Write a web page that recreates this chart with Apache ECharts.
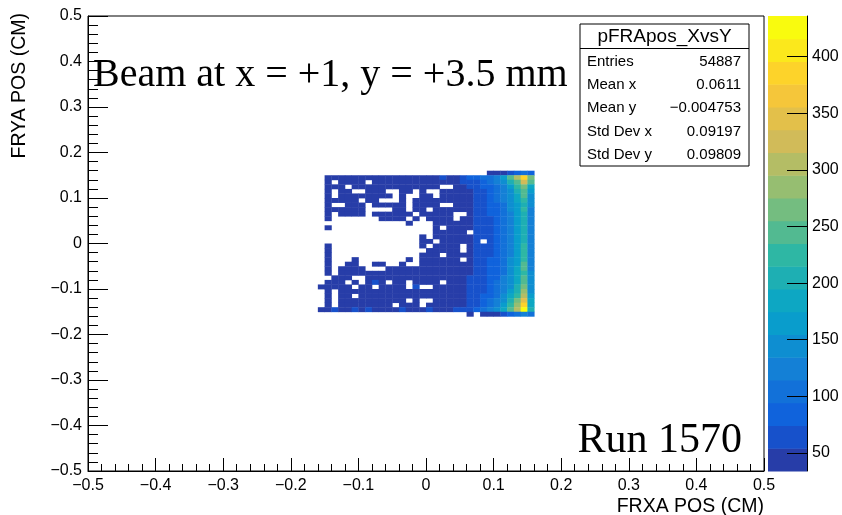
<!DOCTYPE html>
<html><head><meta charset="utf-8">
<script src="https://cdn.jsdelivr.net/npm/echarts@6/dist/echarts.min.js"></script>
<style>html,body{margin:0;padding:0;background:#fff}#c{width:842px;height:515px}</style>
</head><body><div id="c"></div>
<script>
// bin lower edges (x: left to right, y: top row to bottom row)
const xBins = [-0.16,-0.15,-0.14,-0.13,-0.12,-0.11,-0.10,-0.09,-0.08,-0.07,-0.06,-0.05,-0.04,-0.03,-0.02,-0.01,
               0.00,0.01,0.02,0.03,0.04,0.05,0.06,0.07,0.08,0.09,0.10,0.11,0.12,0.13,0.14,0.15];
const yBins = [0.15,0.14,0.13,0.12,0.11,0.10,0.09,0.08,0.07,0.06,0.05,0.04,0.03,0.02,0.01,0.00,
               -0.01,-0.02,-0.03,-0.04,-0.05,-0.06,-0.07,-0.08,-0.09,-0.10,-0.11,-0.12,-0.13,-0.14,-0.15,-0.16];
const binWidth = 0.01;
// bin contents, rows top to bottom, columns left to right (0 = empty)
const counts = [
[0,0,0,0,0,0,0,0,0,0, 0,0,0,0,0,0,0,0,0,0, 0,0,0,0,0,42,46,50,68,88,100,92],
[0,44,47,41,45,43,48,40,46,42, 45,39,47,44,41,46,43,49,66,45, 50,62,75,80,95,110,130,170,240,300,395,270],
[0,43,0,46,40,44,42,0,45,41, 47,39,44,42,46,40,45,43,48,44, 46,55,60,68,85,95,115,150,200,255,330,240],
[0,41,45,42,0,46,40,43,47,41, 44,39,45,42,48,41,44,46,0,0, 47,50,55,62,76,90,105,130,165,215,275,190],
[0,45,0,40,43,0,0,46,41,44, 0,0,42,47,0,43,0,0,45,41, 46,49,53,60,72,86,100,122,150,195,250,165],
[0,42,0,44,47,41,45,39,43,46, 40,0,44,0,0,46,42,0,47,43, 45,52,50,58,70,84,98,118,145,185,235,150],
[0,46,41,44,42,47,0,43,40,0, 0,0,45,0,42,46,41,44,43,48, 44,47,54,57,68,80,95,115,140,178,222,140],
[0,43,0,0,45,41,46,0,44,42, 47,40,43,0,45,41,48,42,0,0, 46,50,52,60,66,78,92,112,138,172,210,135],
[0,47,42,45,40,44,43,0,0,0, 0,46,41,0,44,47,0,43,45,40, 44,48,50,58,65,76,90,110,136,170,218,132],
[0,44,0,41,46,43,45,0,42,47, 40,44,46,41,0,45,43,48,42,46, 0,0,52,57,64,75,88,108,132,165,205,128],
[0,42,0,0,0,0,0,0,0,45, 41,44,43,0,46,0,44,40,47,43, 0,46,49,56,63,74,87,106,130,162,200,126],
[0,0,0,0,0,0,0,0,0,0, 0,0,0,44,0,0,0,45,42,46, 44,48,53,58,62,72,86,105,128,160,205,124],
[0,43,0,0,0,0,0,0,0,0, 0,0,0,0,0,0,0,46,0,41, 45,47,48,56,61,71,85,104,127,158,195,122],
[0,0,0,0,0,0,0,0,0,0, 0,0,0,0,0,0,0,44,47,42, 46,45,0,57,60,73,84,103,126,157,200,120],
[0,0,0,0,0,0,0,0,0,0, 0,0,0,0,0,45,0,43,46,41, 44,48,51,56,62,72,86,104,128,160,208,122],
[0,0,0,0,0,0,0,0,0,0, 0,0,0,0,0,42,46,0,44,47, 43,46,49,56,0,70,84,102,126,158,195,120],
[0,45,0,0,0,0,0,0,0,0, 0,0,0,0,0,44,0,46,41,45, 43,0,48,57,60,71,85,104,130,162,225,125],
[0,42,0,0,0,0,0,0,0,0, 0,0,0,0,0,0,45,43,47,42, 46,0,52,58,62,73,87,106,132,165,222,128],
[0,46,0,0,0,0,0,0,0,0, 0,0,0,0,0,44,41,45,0,43, 47,44,50,59,63,74,88,108,134,168,215,126],
[0,43,0,0,0,45,0,0,0,0, 0,0,0,45,0,42,46,44,41,47, 43,0,48,57,64,75,89,108,135,170,220,130],
[0,44,0,0,46,41,0,0,43,47, 0,0,43,0,0,45,42,46,44,41, 45,48,53,58,65,76,90,110,138,172,235,132],
[0,41,0,45,43,47,42,0,0,0, 44,46,42,45,41,46,43,45,42,47, 44,46,51,59,66,77,91,112,140,175,240,134],
[0,45,0,42,46,41,44,43,47,34, 43,47,42,45,41,46,44,40,47,43, 46,49,54,60,67,78,92,114,142,178,230,136],
[0,0,42,45,43,0,0,44,46,41, 45,40,44,47,43,45,41,46,44,42, 47,48,55,61,68,80,94,116,145,182,245,138],
[0,44,41,46,0,43,0,45,72,42, 0,47,44,0,46,42,45,41,0,46, 43,47,56,62,69,82,96,118,148,186,250,140],
[40,43,46,41,45,0,44,42,0,47, 43,45,41,0,60,0,0,44,47,42, 45,48,57,63,70,84,100,122,152,195,265,145],
[0,46,0,43,41,45,47,42,44,40, 46,43,45,41,47,44,42,46,43,45, 44,49,58,65,73,88,106,130,165,210,290,150],
[0,42,0,45,44,0,43,46,41,45, 42,47,44,40,45,43,46,41,44,47, 46,50,60,67,76,92,112,140,180,232,315,162],
[0,45,0,41,46,43,44,40,47,42, 45,43,46,0,44,0,0,42,45,43, 47,52,62,70,80,96,120,152,198,258,352,178],
[0,43,0,46,42,45,41,44,43,46, 40,0,45,42,47,0,43,45,41,44, 48,54,64,74,85,104,130,168,220,285,385,192],
[38,44,62,46,42,66,45,60,43,47, 41,44,58,45,43,46,64,42,44,47, 60,58,70,82,96,118,148,190,250,310,436,200],
[0,0,0,0,0,0,0,0,0,0, 0,0,0,0,0,0,0,0,0,0, 0,0,40,0,42,45,50,70,85,100,120,95]
];
const zMin = 34, zMax = 436, nLevels = 20;
const paletteTicks = [50,100,150,200,250,300,350,400];
const statsTitle = 'pFRApos_XvsY';
const statsLabels = ['Entries','Mean x','Mean y','Std Dev x','Std Dev y'];
const statsValues = ['54887','0.0611','\u22120.004753','0.09197','0.09809'];
const beamText = 'Beam at x = +1, y = +3.5 mm';
const runText = 'Run 1570';
const xTitle = 'FRXA POS (CM)';
const yTitle = 'FRYA POS (CM)';

// ROOT kBird palette
const birdStops = [0,0.125,0.25,0.375,0.5,0.625,0.75,0.875,1];
const birdR = [0.2082,0.0592,0.0780,0.0232,0.1802,0.5301,0.8186,0.9956,0.9764];
const birdG = [0.1664,0.3599,0.5041,0.6419,0.7178,0.7492,0.7328,0.7862,0.9832];
const birdB = [0.5293,0.8684,0.8385,0.7914,0.6425,0.4662,0.3499,0.1968,0.0539];
function bird(t){
  let k = 0;
  while (k < birdStops.length-2 && t > birdStops[k+1]) k++;
  const f = (t - birdStops[k])/(birdStops[k+1]-birdStops[k]);
  const c = a => Math.round(255*(a[k] + f*(a[k+1]-a[k])));
  return 'rgb(' + c(birdR) + ',' + c(birdG) + ',' + c(birdB) + ')';
}
const levelColors = [];
for (let i = 0; i < nLevels; i++) {
  const idx = Math.min(254, Math.floor((i + 0.99) * 255 / nLevels));
  levelColors.push(bird(idx / 254));
}
const dz = (zMax - zMin) / nLevels;
const pieces = levelColors.map((col, i) => i === nLevels-1
  ? { gte: zMin + i*dz, lte: zMax + 1, color: col }
  : { gte: zMin + i*dz, lt: zMin + (i+1)*dz, color: col });

const cells = [];
counts.forEach((row, r) => row.forEach((v, c) => { if (v > 0) cells.push([xBins[c], yBins[r], v]); }));
const barCells = levelColors.map((col, i) => [zMin + i*dz, zMin + (i+1)*dz, i]);

const fmt = v => Math.abs(v) < 1e-9 ? '0' : (v < 0 ? '\u2212' : '') + Math.abs(v).toFixed(1);
const sans = 'Liberation Sans, Arial, Helvetica, sans-serif';
const serif = 'Liberation Serif, Times New Roman, serif';

const chart = echarts.init(document.getElementById('c'), null, {renderer: 'canvas'});
const axisCommon = {
  type: 'value', min: -0.5, max: 0.5, interval: 0.1,
  axisLine: { show: true, onZero: false, lineStyle: { color: '#000', width: 1 } },
  splitLine: { show: false },
  axisLabel: { formatter: fmt, color: '#000', fontSize: 16, fontFamily: sans, showMinLabel: true, showMaxLabel: true }
};
const statsGroup = [
  { type: 'rect', shape: { x: 580, y: 24, width: 169, height: 142 }, style: { fill: '#fff', stroke: '#000', lineWidth: 1 } },
  { type: 'line', shape: { x1: 580, y1: 48.5, x2: 749, y2: 48.5 }, style: { stroke: '#000', lineWidth: 1 } },
  { type: 'text', x: 664.5, y: 37, style: { text: statsTitle, font: '19px ' + sans, fill: '#000', align: 'center', verticalAlign: 'middle' } }
];
const rowY = [62, 85, 108, 132, 155];
statsLabels.forEach((lab, i) => {
  statsGroup.push({ type: 'text', x: 587, y: rowY[i], style: { text: lab, font: '15px ' + sans, fill: '#000', align: 'left', verticalAlign: 'middle' } });
  statsGroup.push({ type: 'text', x: 741, y: rowY[i], style: { text: statsValues[i], font: '15px ' + sans, fill: '#000', align: 'right', verticalAlign: 'middle' } });
});

chart.setOption({
  animation: false,
  backgroundColor: '#fff',
  grid: [
    { left: 88, top: 16, width: 676, height: 455, show: true, borderColor: '#000', borderWidth: 1, backgroundColor: 'transparent' },
    { left: 768, top: 16, width: 39, height: 455, show: false }
  ],
  xAxis: [
    Object.assign({}, axisCommon, { gridIndex: 0,
      axisTick: { show: true, inside: true, length: 13, lineStyle: { color: '#000' } },
      minorTick: { show: true, splitNumber: 5, length: 7, lineStyle: { color: '#000' } },
      axisLabel: Object.assign({}, axisCommon.axisLabel, { margin: 7 }) }),
    { gridIndex: 1, type: 'value', min: 0, max: 1, show: false }
  ],
  yAxis: [
    Object.assign({}, axisCommon, { gridIndex: 0,
      axisTick: { show: true, inside: true, length: 20, lineStyle: { color: '#000' } },
      minorTick: { show: true, splitNumber: 5, length: 10, lineStyle: { color: '#000' } },
      axisLabel: Object.assign({}, axisCommon.axisLabel, { margin: 6 }) }),
    { gridIndex: 1, type: 'value', min: zMin, max: zMax, position: 'right', z: 10,
      axisLine: { show: true, onZero: false, lineStyle: { color: '#000', width: 1 } },
      splitLine: { show: false },
      axisTick: { show: true, inside: true, length: 20, customValues: paletteTicks, lineStyle: { color: '#000' } },
      axisLabel: { customValues: paletteTicks, color: '#000', fontSize: 16, fontFamily: sans, margin: 5 } }
  ],
  visualMap: { type: 'piecewise', show: false, seriesIndex: 0, dimension: 2, pieces: pieces },
  series: [
    { type: 'custom', xAxisIndex: 0, yAxisIndex: 0, data: cells, clip: true,
      renderItem: function (params, api) {
        const x0 = api.value(0), y0 = api.value(1);
        const p0 = api.coord([x0, y0 + binWidth]);
        const p1 = api.coord([x0 + binWidth, y0]);
        return { type: 'rect', shape: { x: p0[0], y: p0[1], width: p1[0]-p0[0]+0.4, height: p1[1]-p0[1]+0.4 },
                 style: { fill: api.visual('color') } };
      } },
    { type: 'custom', xAxisIndex: 1, yAxisIndex: 1, data: barCells, z: 1,
      renderItem: function (params, api) {
        const p0 = api.coord([0, api.value(1)]);
        const p1 = api.coord([1, api.value(0)]);
        return { type: 'rect', shape: { x: p0[0], y: p0[1], width: p1[0]-p0[0], height: p1[1]-p0[1]+0.4 },
                 style: { fill: levelColors[api.value(2)] } };
      } }
  ],
  graphic: [
    { type: 'text', x: 764, y: 507, style: { text: xTitle, font: '19.5px ' + sans, fill: '#000', align: 'right', verticalAlign: 'middle' } },
    { type: 'text', x: 20, y: 13, rotation: Math.PI/2, style: { text: yTitle, font: '19.5px ' + sans, fill: '#000', align: 'right', verticalAlign: 'middle' } },
    { type: 'text', x: 93, y: 75, style: { text: beamText, font: '40px ' + serif, fill: '#000', align: 'left', verticalAlign: 'middle' } },
    { type: 'text', x: 742, y: 441, style: { text: runText, font: '42px ' + serif, fill: '#000', align: 'right', verticalAlign: 'middle' } },
    { type: 'group', children: statsGroup }
  ]
});
</script></body></html>
